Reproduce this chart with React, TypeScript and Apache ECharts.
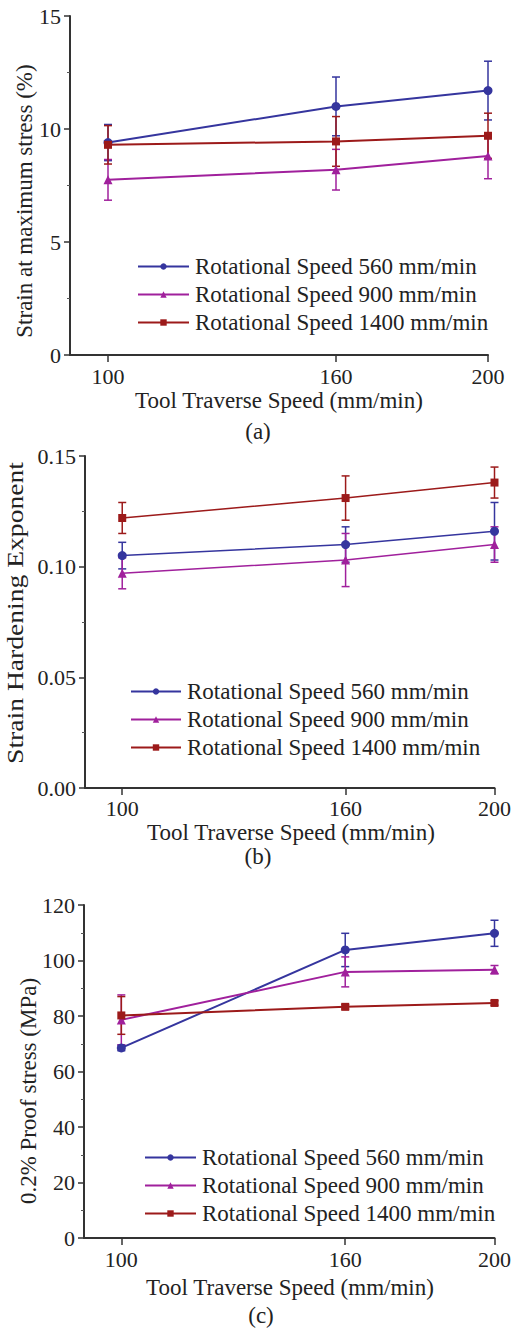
import React, { useEffect, useRef } from "react";
import * as echarts from "echarts";

const speeds = [100, 160, 200];
const seriesNames = [
  "Rotational Speed 560 mm/min",
  "Rotational Speed 900 mm/min",
  "Rotational Speed 1400 mm/min",
];
const colors = ["#35359e", "#a0209c", "#9c1a1a"];
const symbols = ["circle", "triangle", "rect"];

// (a) Strain at maximum stress (%)
const strain560 = [9.4, 11.0, 11.7];
const strain560Err = [0.8, 1.3, 1.3];
const strain900 = [7.75, 8.2, 8.8];
const strain900Err = [0.9, 0.9, 1.0];
const strain1400 = [9.3, 9.45, 9.7];
const strain1400Err = [0.85, 1.1, 1.0];

// (b) Strain hardening exponent
const nExp560 = [0.105, 0.11, 0.116];
const nExp560Err = [0.006, 0.008, 0.013];
const nExp900 = [0.097, 0.103, 0.11];
const nExp900Err = [0.007, 0.012, 0.008];
const nExp1400 = [0.122, 0.131, 0.138];
const nExp1400Err = [0.007, 0.01, 0.007];

// (c) 0.2% proof stress (MPa)
const proof560 = [68.5, 103.8, 109.8];
const proof560Err = [1.0, 6.0, 4.7];
const proof900 = [78.6, 95.9, 96.7];
const proof900Err = [9.0, 5.4, 1.5];
const proof1400 = [80.2, 83.3, 84.7];
const proof1400Err = [6.8, 0.8, 0.8];

const xTicks = [100, 160, 200];

const FONT = "'Liberation Serif', 'Times New Roman', serif";
const TEXT = "#222";

type Panel = {
  grid: { left: number; top: number; width: number; height: number };
  yMin: number;
  yMax: number;
  yInterval: number;
  yDecimals: number;
  values: number[][];
  errs: number[][];
  lineWidth: number;
  legend: { left: number; top: number; itemWidth: number };
  yName: string;
  yNamePos: [number, number];
  yNameStretch: number;
  xLabelMargin: number;
  xNamePos: [number, number];
  caption: string;
  captionPos: [number, number];
};

const panels: Panel[] = [
  {
    grid: { left: 70, top: 16, width: 418, height: 339 },
    yMin: 0,
    yMax: 15,
    yInterval: 5,
    yDecimals: 0,
    values: [strain560, strain900, strain1400],
    errs: [strain560Err, strain900Err, strain1400Err],
    lineWidth: 2,
    legend: { left: 137, top: 255, itemWidth: 51 },
    yName: "Strain at maximum stress (%)",
    yNamePos: [24, 201],
    yNameStretch: 1,
    xLabelMargin: 11,
    xNamePos: [279, 400],
    caption: "(a)",
    captionPos: [258, 431],
  },
  {
    grid: { left: 85, top: 456, width: 411, height: 332 },
    yMin: 0,
    yMax: 0.15,
    yInterval: 0.05,
    yDecimals: 2,
    values: [nExp560, nExp900, nExp1400],
    errs: [nExp560Err, nExp900Err, nExp1400Err],
    lineWidth: 1.5,
    legend: { left: 130, top: 680, itemWidth: 50 },
    yName: "Strain Hardening Exponent",
    yNamePos: [15, 613],
    yNameStretch: 1.2,
    xLabelMargin: 10,
    xNamePos: [291, 832],
    caption: "(b)",
    captionPos: [258, 856],
  },
  {
    grid: { left: 84, top: 905, width: 413, height: 333 },
    yMin: 0,
    yMax: 120,
    yInterval: 20,
    yDecimals: 0,
    values: [proof560, proof900, proof1400],
    errs: [proof560Err, proof900Err, proof1400Err],
    lineWidth: 2,
    legend: { left: 144, top: 1146, itemWidth: 51 },
    yName: "0.2% Proof stress (MPa)",
    yNamePos: [28, 1091],
    yNameStretch: 1,
    xLabelMargin: 11,
    xNamePos: [290, 1287],
    caption: "(c)",
    captionPos: [261, 1315],
  },
];

export default function App() {
  const ref = useRef<HTMLDivElement>(null);

  useEffect(() => {
    if (!ref.current) return;
    const chart = echarts.init(ref.current, undefined, { renderer: "svg" });

    const grids: any[] = [];
    const xAxes: any[] = [];
    const yAxes: any[] = [];
    const series: any[] = [];
    const legends: any[] = [];
    const graphics: any[] = [];

    panels.forEach((p, pi) => {
      grids.push({ ...p.grid, containLabel: false });
      xAxes.push({
        type: "value",
        gridIndex: pi,
        min: 90,
        max: 200,
        splitLine: { show: false },
        axisLine: { show: true, lineStyle: { color: "#333", width: 2 } },
        axisTick: {
          show: true,
          customValues: xTicks,
          length: 7,
          lineStyle: { color: "#333", width: 1.5 },
        },
        axisLabel: {
          customValues: xTicks,
          margin: p.xLabelMargin,
          fontFamily: FONT,
          fontSize: 22,
          lineHeight: 20,
          color: TEXT,
        },
      });
      yAxes.push({
        type: "value",
        gridIndex: pi,
        min: p.yMin,
        max: p.yMax,
        interval: p.yInterval,
        splitLine: { show: false },
        axisLine: { show: true, lineStyle: { color: "#333", width: 2 } },
        axisTick: { show: true, length: 6, lineStyle: { color: "#333", width: 1.5 } },
        minorTick: { show: true, splitNumber: 2, length: 3, lineStyle: { color: "#555" } },
        axisLabel: {
          margin: 9,
          fontFamily: FONT,
          fontSize: 22,
          color: TEXT,
          formatter: (v: number) => v.toFixed(p.yDecimals),
        },
      });

      p.values.forEach((vals, si) => {
        const errs = p.errs[si];
        series.push({
          type: "custom",
          name: seriesNames[si] + " error",
          xAxisIndex: pi,
          yAxisIndex: pi,
          silent: true,
          z: 2,
          data: speeds.map((x, i) => [x, vals[i] - errs[i], vals[i] + errs[i]]),
          encode: { x: 0, y: [1, 2] },
          renderItem: (params: any, api: any) => {
            const x = api.value(0);
            const lo = api.coord([x, api.value(1)]);
            const hi = api.coord([x, api.value(2)]);
            const hw = 4;
            const style = { stroke: colors[si], lineWidth: 1.5 };
            return {
              type: "group",
              children: [
                { type: "line", shape: { x1: lo[0], y1: lo[1], x2: hi[0], y2: hi[1] }, style },
                { type: "line", shape: { x1: lo[0] - hw, y1: lo[1], x2: lo[0] + hw, y2: lo[1] }, style },
                { type: "line", shape: { x1: hi[0] - hw, y1: hi[1], x2: hi[0] + hw, y2: hi[1] }, style },
              ],
            };
          },
        });
        series.push({
          type: "line",
          name: seriesNames[si],
          xAxisIndex: pi,
          yAxisIndex: pi,
          z: 3,
          data: speeds.map((x, i) => [x, vals[i]]),
          symbol: symbols[si],
          symbolSize: si === 2 ? 8 : 9,
          showSymbol: true,
          lineStyle: { color: colors[si], width: p.lineWidth },
          itemStyle: { color: colors[si] },
        });
      });

      legends.push({
        orient: "vertical",
        left: p.legend.left,
        top: p.legend.top,
        itemWidth: p.legend.itemWidth,
        itemHeight: 8,
        itemGap: 5,
        padding: 0,
        selectedMode: false,
        data: seriesNames,
        textStyle: { fontFamily: FONT, fontSize: 23, color: TEXT, lineHeight: 23, padding: [0, 0, 0, 1] },
      });

      graphics.push({
        type: "text",
        x: p.yNamePos[0],
        y: p.yNamePos[1],
        rotation: Math.PI / 2,
        scaleX: p.yNameStretch,
        style: {
          text: p.yName,
          fontFamily: FONT,
          fontSize: 23,
          lineHeight: 20,
          fill: TEXT,
          align: "center",
          verticalAlign: "middle",
        },
      });
      graphics.push({
        type: "text",
        x: p.xNamePos[0],
        y: p.xNamePos[1],
        style: {
          text: "Tool Traverse Speed (mm/min)",
          fontFamily: FONT,
          fontSize: 23,
          lineHeight: 18,
          fill: TEXT,
          align: "center",
          verticalAlign: "middle",
        },
      });
      graphics.push({
        type: "text",
        x: p.captionPos[0],
        y: p.captionPos[1],
        style: {
          text: p.caption,
          fontFamily: FONT,
          fontSize: 23,
          lineHeight: 18,
          fill: TEXT,
          align: "center",
          verticalAlign: "middle",
        },
      });
    });

    chart.setOption({
      animation: false,
      backgroundColor: "#fff",
      textStyle: { fontFamily: FONT },
      grid: grids,
      xAxis: xAxes,
      yAxis: yAxes,
      legend: legends,
      series,
      graphic: graphics,
    });

    return () => chart.dispose();
  }, []);

  return (
    <div
      ref={ref}
      style={{ position: "absolute", left: 0, top: 0, width: 514, height: 1330 }}
    />
  );
}
